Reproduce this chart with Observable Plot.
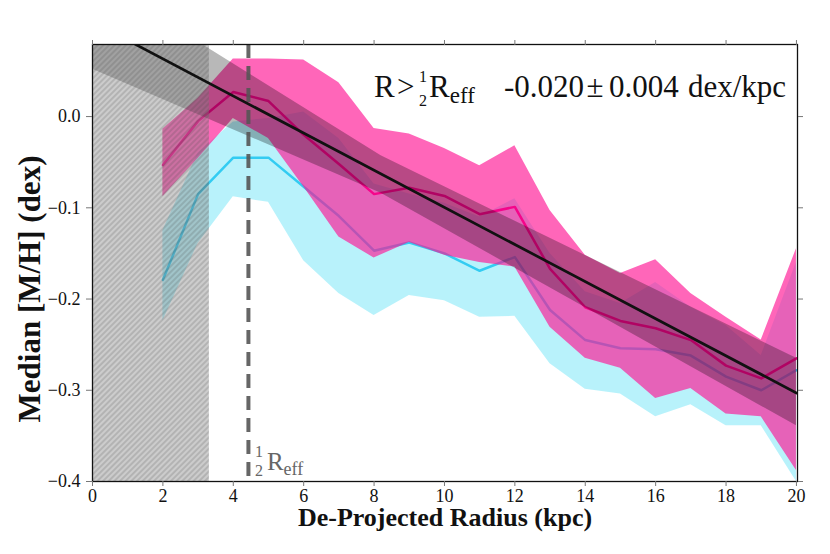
<!DOCTYPE html>
<html>
<head>
<meta charset="utf-8">
<script src="https://cdn.jsdelivr.net/npm/d3@7"></script>
<script src="https://cdn.jsdelivr.net/npm/@observablehq/plot@0.6"></script>
<style>
  body { margin: 0; background: #fff; }
  #chart svg { display: block; }
</style>
</head>
<body>
<div id="chart"></div>
<script>
// radial bins (kpc)
const radius = [2, 3, 4, 5, 6, 7, 8, 9, 10, 11, 12, 13, 14, 15, 16, 17, 18, 19, 20];

// cyan profile: median and band
const cyanMed = [-0.179, -0.085, -0.045, -0.045, -0.077, -0.109, -0.147, -0.138, -0.150, -0.169, -0.154, -0.212, -0.245, -0.254, -0.255, -0.262, -0.285, -0.300, -0.278];
const cyanLo  = [-0.224, -0.139, -0.088, -0.094, -0.158, -0.194, -0.218, -0.196, -0.202, -0.220, -0.219, -0.271, -0.299, -0.304, -0.329, -0.316, -0.339, -0.339, -0.400];
const cyanHi  = [-0.125, -0.040, -0.006, -0.002, 0.005, -0.024, -0.074, -0.085, -0.095, -0.110, -0.090, -0.150, -0.192, -0.205, -0.182, -0.209, -0.229, -0.262, -0.160];

// magenta profile: median and band
const magMed = [-0.053, -0.005, 0.027, 0.017, -0.020, -0.052, -0.085, -0.078, -0.087, -0.107, -0.099, -0.167, -0.209, -0.224, -0.232, -0.245, -0.273, -0.287, -0.265];
const magLo  = [-0.088, -0.046, -0.002, -0.024, -0.077, -0.132, -0.155, -0.138, -0.152, -0.160, -0.165, -0.231, -0.265, -0.276, -0.309, -0.298, -0.326, -0.329, -0.388];
const magHi  = [-0.014, 0.020, 0.063, 0.063, 0.062, 0.037, -0.013, -0.019, -0.035, -0.054, -0.032, -0.103, -0.152, -0.172, -0.157, -0.194, -0.220, -0.245, -0.145];

// linear fit for R > 1/2 Reff, with its band
const fitX  = [0, 20];
const fitY  = [0.104, -0.303];
const bandX  = [0, 8.2, 20];
const bandLo = [0.052, -0.084, -0.339];
const bandHi = [0.154, -0.043, -0.265];

const halfReff = 4.43;   // kpc, dashed line
const maskEdge = 3.32;   // kpc, hatched region
const xTicks = [0, 2, 4, 6, 8, 10, 12, 14, 16, 18, 20];
const yTicks = [-0.4, -0.3, -0.2, -0.1, 0.0];

const rows = radius.map((r, i) => ({
  r, cy: cyanMed[i], cyLo: cyanLo[i], cyHi: cyanHi[i],
  mg: magMed[i], mgLo: magLo[i], mgHi: magHi[i]
}));
const fit = fitX.map((x, i) => ({x, y: fitY[i]}));
const band = bandX.map((x, i) => ({x, lo: bandLo[i], hi: bandHi[i]}));
const mask = [{x1: 0, x2: maskEdge}];

const serif = "Liberation Serif, Times New Roman, serif";

const plot = Plot.plot({
  width: 830,
  height: 554,
  marginLeft: 92,
  marginRight: 33,
  marginTop: 44,
  marginBottom: 73,
  style: {fontFamily: serif, background: "white", color: "#111"},
  x: {domain: [0, 20.03]},
  y: {domain: [-0.4, 0.079]},
  marks: [
    Plot.areaY(rows, {x: "r", y1: "cyLo", y2: "cyHi", fill: "#00d2f0", fillOpacity: 0.28}),
    Plot.lineY(rows, {x: "r", y: "cy", stroke: "#33ccf2", strokeWidth: 2.5}),
    Plot.areaY(rows, {x: "r", y1: "mgLo", y2: "mgHi", fill: "#ff1493", fillOpacity: 0.65}),
    Plot.lineY(rows, {x: "r", y: "mg", stroke: "#f5058a", strokeWidth: 2.5}),
    Plot.areaY(band, {x: "x", y1: "lo", y2: "hi", fill: "black", fillOpacity: 0.28, clip: true}),
    Plot.rect(mask, {x1: "x1", x2: "x2", fill: "#808080", fillOpacity: 0.4}),
    Plot.rect(mask, {x1: "x1", x2: "x2", fill: "url(#hatch)"}),
    Plot.ruleX([halfReff], {stroke: "#555", strokeOpacity: 0.9, strokeWidth: 4, strokeDasharray: "14,8"}),
    Plot.line(fit, {x: "x", y: "y", stroke: "#111", strokeWidth: 2.7, clip: true}),
    Plot.frame({stroke: "#111", strokeWidth: 1.3}),
    Plot.axisX({ticks: xTicks, tickSize: 5, tickPadding: 3, fontSize: 18, stroke: "#777", label: null}),
    Plot.axisX({anchor: "top", ticks: xTicks, tickSize: 5, stroke: "#777", tickFormat: () => "", label: null}),
    Plot.axisY({ticks: yTicks, tickSize: 6, tickPadding: 6, fontSize: 18, stroke: "#777", tickFormat: d3.format(".1f"), label: null}),
    Plot.axisY({anchor: "right", ticks: yTicks, tickSize: 5, stroke: "#777", tickFormat: () => "", label: null}),
    Plot.text(["De-Projected Radius (kpc)"], {text: d => d, frameAnchor: "bottom", lineAnchor: "middle", textAnchor: "middle", dy: 36, fontSize: 26, fontWeight: "bold", fill: "#111"}),
    Plot.text(["Median [M/H] (dex)"], {text: d => d, frameAnchor: "left", lineAnchor: "middle", textAnchor: "middle", rotate: -90, dx: -62, dy: 26, fontSize: 31, fontWeight: "bold", fill: "#111"})
  ]
});

const svg = d3.select(plot);

// hatch pattern for the masked inner region
const pat = svg.insert("defs", ":first-child").append("pattern")
  .attr("id", "hatch")
  .attr("patternUnits", "userSpaceOnUse")
  .attr("width", 4).attr("height", 4)
  .attr("patternTransform", "rotate(45)");
pat.append("line")
  .attr("x1", 1).attr("y1", 0).attr("x2", 1).attr("y2", 4)
  .attr("stroke", "#444").attr("stroke-width", 0.8).attr("stroke-opacity", 0.45);

const sx = plot.scale("x");
const sy = plot.scale("y");

// 1/2 Reff label next to the dashed line
const lx = sx.apply(halfReff);
const ly = sy.apply(-0.4);
const lab = svg.append("g").attr("fill", "#666").attr("font-family", serif).attr("text-anchor", "start");
lab.append("text").attr("x", lx + 11).attr("y", ly - 24).attr("text-anchor", "middle").attr("font-size", 16).text("1");
lab.append("text").attr("x", lx + 11).attr("y", ly - 5).attr("text-anchor", "middle").attr("font-size", 16).text("2");
const lr = lab.append("text").attr("x", lx + 19).attr("y", ly - 11).attr("font-size", 25);
lr.append("tspan").text("R");
lr.append("tspan").attr("font-size", 18).attr("dy", 5).text("eff");

// slope annotation
const ann = svg.append("g").attr("fill", "#111").attr("font-family", serif).attr("text-anchor", "start").attr("font-size", 31);
const by = 97;
ann.append("text").attr("x", 374).attr("y", by).text("R");
ann.append("text").attr("x", 397).attr("y", by).text(">");
ann.append("text").attr("x", 423).attr("y", by - 15).attr("text-anchor", "middle").attr("font-size", 16).text("1");
ann.append("text").attr("x", 423).attr("y", by + 9).attr("text-anchor", "middle").attr("font-size", 16).text("2");
const ar = ann.append("text").attr("x", 429).attr("y", by);
ar.append("tspan").text("R");
ar.append("tspan").attr("font-size", 23).attr("dy", 6).text("eff");
ann.append("text").attr("x", 504).attr("y", by).text("-0.020");
ann.append("text").attr("x", 595).attr("y", by).attr("text-anchor", "middle").text("±");
ann.append("text").attr("x", 609).attr("y", by).text("0.004");
ann.append("text").attr("x", 688).attr("y", by).text("dex/kpc");

document.getElementById("chart").appendChild(plot);
</script>
</body>
</html>
